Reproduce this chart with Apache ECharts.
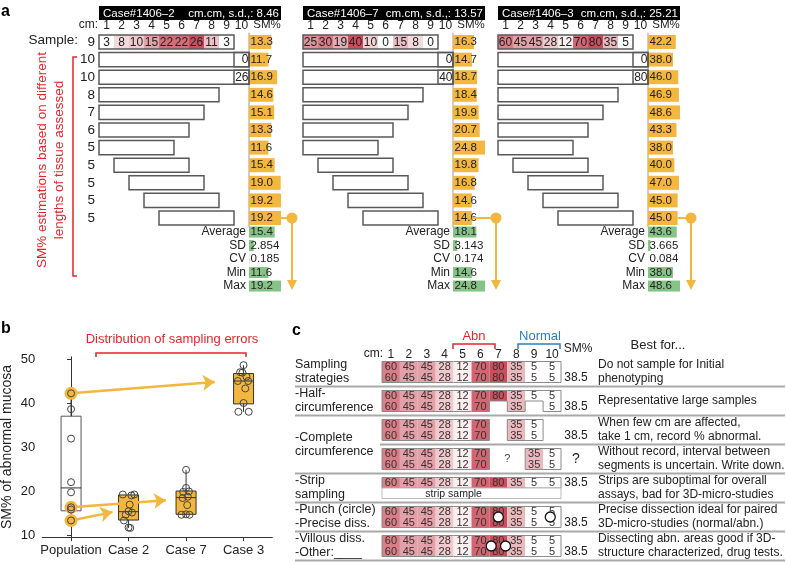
<!DOCTYPE html>
<html lang="en">
<head>
<meta charset="UTF-8">
<title>SM% sampling errors</title>
<script src="https://cdn.jsdelivr.net/npm/echarts@6/dist/echarts.min.js"></script>
<style>
  * { margin: 0; padding: 0; }
  #main { width: 786px; height: 564px; }
</style>
</head>
<body>
<div id="main"></div>
<script>
// ---------- panel a data ----------
const caseNames = ['Case#1406–2', 'Case#1406–7', 'Case#1406–3'];
const caseSd = ['8.46', '13.57', '25.21'];
const cmTicks = [1, 2, 3, 4, 5, 6, 7, 8, 9, 10];
const sampleCase2 = [3, 8, 10, 15, 22, 22, 26, 11, 3];
const sampleCase7 = [25, 30, 19, 40, 10, 0, 15, 8, 0];
const sampleCase3 = [60, 45, 45, 28, 12, 70, 80, 35, 5];
// tissue windows used for each SM% estimate (first cm, last cm)
const windowStart = [1, 1, 1, 1, 1, 1, 2, 3, 4, 5];
const windowEnd = [10, 10, 8, 7, 6, 5, 6, 7, 8, 9];
// guessed value of the missing 10th cm (rows 1 and 2)
const tenthCase2 = [0, 26];
const tenthCase7 = [0, 40];
const tenthCase3 = [0, 80];
// SM% of the sample row followed by the 10 estimates
const smCase2 = [13.3, 11.7, 16.9, 14.6, 15.1, 13.3, 11.6, 15.4, 19.0, 19.2, 19.2];
const smCase7 = [16.3, 14.7, 18.7, 18.4, 19.9, 20.7, 24.8, 19.8, 16.8, 14.6, 14.6];
const smCase3 = [42.2, 38.0, 46.0, 46.9, 48.6, 43.3, 38.0, 40.0, 47.0, 45.0, 45.0];
const statNames = ['Average', 'SD', 'CV', 'Min', 'Max'];
const statDigits = [1, 3, 3, 1, 1];
const statsCase2 = [15.4, 2.854, 0.185, 11.6, 19.2];
const statsCase7 = [18.1, 3.143, 0.174, 14.6, 24.8];
const statsCase3 = [43.6, 3.665, 0.084, 38.0, 48.6];

// ---------- panel b data ----------
const bCategories = ['Population', 'Case 2', 'Case 7', 'Case 3'];
const populationSM = [42.2, 38.6, 31.9, 22.0, 19.7, 16.3, 15.8, 13.3];
// min, q1, median, q3, max
const boxPopulation = [13.3, 15.5, 20.7, 37.0, 42.2];
const boxCase2 = [11.6, 13.4, 15.3, 19.1, 19.2];
const boxCase7 = [14.6, 14.7, 18.5, 20.0, 24.8];
const boxCase3 = [38.0, 39.8, 45.0, 46.7, 48.6];
const jitterCase2 = [0.0, 0.02, -0.05, 0.06, -0.08, 0.03, 0.0, 0.05, -0.1, 0.1];
const jitterCase7 = [0.0, 0.03, -0.06, 0.05, 0.0, 0.0, -0.05, 0.02, -0.08, 0.06];
const jitterCase3 = [-0.09, 0.05, -0.02, 0.0, 0.03, 0.09, 0.0, -0.06, -0.1, 0.08];
const arrowTo = [[2.5, 44.8], [1.65, 17.9], [0.72, 15.2]];

// ---------- panel c data ----------
const rowFull = [60, 45, 45, 28, 12, 70, 80, 35, 5, 5];
const rowHalf = [60, 45, 45, 28, 12, 70, null, 35, null, 5];
const rowComplete = [60, 45, 45, 28, 12, 70, null, 35, 5, null];
const rowShifted = [60, 45, 45, 28, 12, 70, null, null, 35, 5];
const cBlocks = [
  [rowFull, rowFull],
  [rowFull, rowHalf],
  [rowComplete, rowComplete],
  [rowShifted, rowShifted],
  [rowFull],
  [rowFull, rowFull],
  [rowFull, rowFull]
];
const cLabels = ['Sampling\nstrategies', '-Half-\ncircumference', '-Complete\ncircumference',
  '-Strip\nsampling', '-Punch (circle)\n-Precise diss.', '-Villous diss.\n-Other:____'];
const cLabelRows = [0, 1, 2.5, 4, 5, 6];
const cSM = ['38.5', '38.5', '38.5', '?', '38.5', '38.5', '38.5'];
const cSMSub = [1, 1, 1, 0.5, 0, 1, 1];
const cSepFull = [true, true, false, true, true, true, true];
const cBestFor = [
  'Do not sample for Initial\nphenotyping',
  'Representative large samples',
  'When few cm are affected,\ntake 1 cm, record % abnormal.',
  'Without record, interval between\nsegments is uncertain. Write down.',
  'Strips are suboptimal for overall\nassays, bad for 3D-micro-studies',
  'Precise dissection ideal for paired\n3D-micro-studies (normal/abn.)',
  'Dissecting abn. areas good if 3D-\nstructure characterized, drug tests.'
];
const cQuestion = [[7.5, 3]];
const cStrip = [[1, 4, 10]];
const cMarks = [[7, 5], [9.9, 5], [6.6, 6], [7.4, 6]];

// ---------- styles ----------
const FONT = '"Liberation Sans", Arial, Helvetica, sans-serif';
const ORANGE = '#F3B73F';
const GREEN = '#86C386';
const RED = '#E4262C';
const BLUE = '#2D7EC4';
const HEAT = ['#FFFFFF', '#C94F5C'];
const SUB_H = 10.5;
const cmLeft = [99, 303, 498];

const grids = [], xAxes = [], yAxes = [], series = [], visualMaps = [];
const noAxis = { axisLine: { show: false }, axisTick: { show: false }, splitLine: { show: false }, axisLabel: { show: false } };

// one grid = one x axis + one y axis with the same index
function addGrid(g, xa, ya) {
  const i = grids.length;
  grids.push(Object.assign({ outerBoundsMode: 'none' }, g));
  xAxes.push(Object.assign({ gridIndex: i }, xa));
  yAxes.push(Object.assign({ gridIndex: i }, ya));
  return i;
}

function txt(text, x, y, size, extra) {
  return Object.assign({ text: String(text), x: x, y: y, fontSize: size, fontFamily: FONT, fill: '#222',
    align: 'center', verticalAlign: 'middle' }, extra || {});
}

function cellRect(api, cm, row, frac) {
  const a = api.coord([cm - 0.5, row]);
  const b = api.coord([cm + 0.5, row]);
  const h = api.size([0, 1])[1] * frac;
  return { x: a[0], y: a[1] - h / 2, width: b[0] - a[0], height: h };
}

function renderHeatA(params, api) {
  const r = cellRect(api, api.value(0), api.value(1), 0.8);
  return { type: 'group', children: [
    { type: 'rect', shape: r, style: { fill: api.visual('color') } },
    { type: 'text', style: txt(api.value(2), r.x + r.width / 2, r.y + r.height / 2 + 0.5, 12) }
  ] };
}

function renderBoxA(params, api) {
  const a = cellRect(api, api.value(0), api.value(1), 0.8);
  const b = cellRect(api, api.value(2), api.value(1), 0.8);
  return { type: 'rect', shape: { x: a.x, y: a.y, width: b.x + b.width - a.x, height: a.height },
    style: { fill: 'none', stroke: '#595959', lineWidth: 1.5 } };
}

function renderTenthA(params, api) {
  const r = cellRect(api, api.value(0), api.value(1), 0.8);
  return { type: 'group', children: [
    { type: 'rect', shape: r, style: { fill: 'none', stroke: '#595959', lineWidth: 1.5 } },
    { type: 'text', style: txt(api.value(2), r.x + r.width - 0.5, r.y + r.height / 2 + 0.5, 12, { align: 'right' }) }
  ] };
}

function renderConnector(params, api) {
  const p = api.coord([api.value(0), api.value(1)]);
  const cs = params.coordSys;
  const cx = cs.x + cs.width + 11, y0 = p[1], y1 = y0 + 72;
  const st = { stroke: ORANGE, lineWidth: 2 };
  return { type: 'group', children: [
    { type: 'line', shape: { x1: p[0], y1: y0, x2: cx, y2: y0 }, style: st },
    { type: 'line', shape: { x1: cx, y1: y0, x2: cx, y2: y1 - 8 }, style: st },
    { type: 'circle', shape: { cx: cx, cy: y0, r: 5.5 }, style: { fill: ORANGE } },
    { type: 'polygon', shape: { points: [[cx - 5, y1 - 10], [cx + 5, y1 - 10], [cx, y1]] }, style: { fill: ORANGE } }
  ] };
}

// ---------- panel a ----------
const sampleSets = [sampleCase2, sampleCase7, sampleCase3];
const tenthSets = [tenthCase2, tenthCase7, tenthCase3];
const smSets = [smCase2, smCase7, smCase3];
const statSets = [statsCase2, statsCase7, statsCase3];
const rowIdx = smCase2.map((_, i) => i);
const rowLengths = [sampleCase2.length].concat(windowStart.map((s, i) => windowEnd[i] - s + 1));

for (let k = 0; k < 3; k++) {
  const gCm = addGrid({ left: cmLeft[k], top: 33.2, width: 150, height: 193.6 },
    { type: 'value', min: 0.5, max: 10.5, position: 'top', axisLine: { show: false }, axisTick: { show: false },
      splitLine: { show: false },
      axisLabel: { customValues: cmTicks, margin: 2, fontSize: 12, color: '#222', fontFamily: FONT } },
    Object.assign({}, noAxis, { type: 'value', inverse: true, min: -0.5, max: 10.5,
      axisLabel: k === 0 ? { customValues: rowIdx, formatter: v => rowLengths[Math.round(v)], margin: 4,
        fontSize: 13.5, color: '#222', fontFamily: FONT } : { show: false } }));

  const heatIndex = series.length;
  series.push({ type: 'custom', xAxisIndex: gCm, yAxisIndex: gCm, renderItem: renderHeatA, silent: true,
    data: sampleSets[k].map((v, i) => [i + 1, 0, v]) });
  visualMaps.push({ type: 'continuous', show: false, seriesIndex: heatIndex, dimension: 2,
    min: Math.min(...sampleSets[k]), max: Math.max(...sampleSets[k]), inRange: { color: HEAT } });

  series.push({ type: 'custom', xAxisIndex: gCm, yAxisIndex: gCm, renderItem: renderBoxA, silent: true, z: 3,
    data: [[1, 0, sampleSets[k].length]].concat(windowStart.map((s, i) => [s, i + 1, windowEnd[i]])) });
  series.push({ type: 'custom', xAxisIndex: gCm, yAxisIndex: gCm, renderItem: renderTenthA, silent: true, z: 3,
    data: tenthSets[k].map((v, i) => [10, i + 1, v]) });

  const sm = smSets[k];
  const gSm = addGrid({ left: cmLeft[k] + 150, top: 33.2, width: 32, height: 193.6 },
    Object.assign({}, noAxis, { type: 'value', min: 0, max: Math.max(...sm) }),
    { type: 'category', inverse: true, position: 'right', data: rowIdx.map(String),
      axisLine: { show: true, lineStyle: { color: '#bdbdbd', width: 1.5 } }, axisTick: { show: false },
      axisLabel: { show: false }, splitLine: { show: false } });
  series.push({ type: 'bar', xAxisIndex: gSm, yAxisIndex: gSm, data: sm, barWidth: 14, silent: true,
    itemStyle: { color: ORANGE },
    label: { show: true, position: 'insideLeft', distance: 1.5, formatter: p => p.value.toFixed(1),
      color: '#222', fontSize: 11.5, fontFamily: FONT } });
  series.push({ type: 'custom', xAxisIndex: gSm, yAxisIndex: gSm, renderItem: renderConnector, silent: true, z: 4,
    data: [[sm[sm.length - 1], sm.length - 1]] });

  const st = statSets[k];
  const gSt = addGrid({ left: cmLeft[k] + 150, top: 225.3, width: 32, height: 67.5 },
    Object.assign({}, noAxis, { type: 'value', min: 0, max: Math.max(...st) }),
    { type: 'category', inverse: true, data: statNames, axisLine: { show: false }, axisTick: { show: false },
      splitLine: { show: false },
      axisLabel: { show: true, interval: 0, margin: 3, fontSize: 12, color: '#222', fontFamily: FONT } });
  series.push({ type: 'bar', xAxisIndex: gSt, yAxisIndex: gSt, data: st, barWidth: 11, silent: true,
    itemStyle: { color: GREEN },
    label: { show: true, position: 'insideLeft', distance: 1.5,
      formatter: p => p.value.toFixed(statDigits[p.dataIndex]), color: '#222', fontSize: 11.5, fontFamily: FONT } });
}

// ---------- panel b ----------
function renderBoxB(params, api) {
  const cat = api.value(0);
  const x = api.coord([cat, api.value(3)])[0];
  const y = [1, 2, 3, 4, 5].map(d => api.coord([cat, api.value(d)])[1]);
  const w = 20;
  const st = { stroke: '#333', lineWidth: 1 };
  return { type: 'group', children: [
    { type: 'line', shape: { x1: x, y1: y[4], x2: x, y2: y[3] }, style: st },
    { type: 'line', shape: { x1: x, y1: y[1], x2: x, y2: y[0] }, style: st },
    { type: 'rect', shape: { x: x - w / 2, y: y[3], width: w, height: y[1] - y[3] },
      style: { fill: cat === 0 ? '#fff' : ORANGE, stroke: cat === 0 ? '#555' : '#333', lineWidth: 1 } },
    { type: 'line', shape: { x1: x - w / 2, y1: y[2], x2: x + w / 2, y2: y[2] }, style: st }
  ] };
}

const gB = addGrid({ left: 42.3, top: 356.8, width: 230, height: 180.4 },
  { type: 'value', min: -0.5, max: 3.5, splitLine: { show: false },
    axisLine: { show: true, lineStyle: { color: '#333', width: 1 } },
    axisTick: { show: true, customValues: [0, 1, 2, 3], length: 4, lineStyle: { color: '#333' } },
    axisLabel: { customValues: [0, 1, 2, 3], formatter: v => bCategories[Math.round(v)], margin: 7,
      fontSize: 13, color: '#222', fontFamily: FONT } },
  { type: 'value', min: 9.5, max: 50.5, splitLine: { show: false },
    name: 'SM% of abnormal mucosa', nameLocation: 'middle', nameGap: 28,
    nameTextStyle: { fontSize: 14, color: '#222', fontFamily: FONT },
    axisLine: { show: true, lineStyle: { color: '#333', width: 1 } },
    axisTick: { show: true, customValues: [10, 20, 30, 40, 50], length: 4, lineStyle: { color: '#333' } },
    axisLabel: { customValues: [10, 20, 30, 40, 50], margin: 7, fontSize: 13, color: '#222', fontFamily: FONT } });

const highlightSM = [smCase3[0], smCase7[0], smCase2[0]];
series.push({ type: 'custom', xAxisIndex: gB, yAxisIndex: gB, renderItem: renderBoxB, silent: true, z: 2,
  data: [boxPopulation, boxCase2, boxCase7, boxCase3].map((b, i) => [i].concat(b)) });
series.push({ type: 'scatter', xAxisIndex: gB, yAxisIndex: gB, symbolSize: 13, silent: true, z: 3,
  itemStyle: { color: ORANGE, opacity: 1 }, data: highlightSM.map(v => [0, v]) });
series.push({ type: 'lines', coordinateSystem: 'cartesian2d', xAxisIndex: gB, yAxisIndex: gB, silent: true, z: 4,
  symbol: ['none', 'arrow'], symbolSize: 12, lineStyle: { color: ORANGE, width: 2.5, opacity: 1, curveness: 0 },
  data: arrowTo.map((t, i) => ({ coords: [[0, highlightSM[i]], t] })) });
const casePoints = [];
[[smCase2, jitterCase2, 1], [smCase7, jitterCase7, 2], [smCase3, jitterCase3, 3]].forEach(([sm, jit, c]) => {
  sm.slice(1).forEach((v, i) => casePoints.push([c + jit[i], v]));
});
series.push({ type: 'scatter', xAxisIndex: gB, yAxisIndex: gB, symbolSize: 7, silent: true, z: 5,
  itemStyle: { color: 'rgba(255,255,255,0)', borderColor: '#444', borderWidth: 1, opacity: 1 },
  data: populationSM.map(v => [0, v]).concat(casePoints) });

// ---------- panel c ----------
function renderCellC(params, api) {
  const cm = api.value(0), blk = api.value(1), sub = api.value(2), v = api.value(3), e = api.value(4);
  const c = api.coord([cm, blk]);
  const w = api.size([1, 0])[0];
  const x0 = c[0] - w / 2, x1 = x0 + w;
  const y0 = c[1] - SUB_H + sub * SUB_H, y1 = y0 + SUB_H;
  const es = { stroke: '#8a8a8a', lineWidth: 1 };
  const kids = [
    { type: 'rect', shape: { x: x0, y: y0, width: w, height: SUB_H }, style: { fill: api.visual('color') } },
    { type: 'text', style: txt(v, c[0], y0 + SUB_H / 2 + 0.5, 11, { fill: '#3a3030' }) }
  ];
  if (e & 1) kids.push({ type: 'line', shape: { x1: x0, y1: y0, x2: x1, y2: y0 }, style: es });
  if (e & 2) kids.push({ type: 'line', shape: { x1: x1, y1: y0, x2: x1, y2: y1 }, style: es });
  if (e & 4) kids.push({ type: 'line', shape: { x1: x0, y1: y1, x2: x1, y2: y1 }, style: es });
  if (e & 8) kids.push({ type: 'line', shape: { x1: x0, y1: y0, x2: x0, y2: y1 }, style: es });
  return { type: 'group', children: kids };
}

function renderNoteC(params, api) {
  const i = api.value(1);
  const cs = params.coordSys;
  const yc = api.coord([10.5, i])[1];
  const ySep = api.coord([10.5, i + 0.5])[1];
  const xr = cs.x + cs.width;
  return { type: 'group', children: [
    { type: 'text', style: txt(cSM[i], xr + 15, yc + (cSMSub[i] - 0.5) * SUB_H, cSM[i] === '?' ? 14 : 12) },
    { type: 'text', style: txt(cBestFor[i], xr + 37, yc, 12, { align: 'left', lineHeight: 14 }) },
    { type: 'line', shape: { x1: cSepFull[i] ? cs.x - 87 : cs.x - 2, y1: ySep, x2: xr + 224, y2: ySep },
      style: { stroke: '#a9a9a9', lineWidth: 2 } }
  ] };
}

function renderLabelC(params, api) {
  const p = api.coord([0.5, api.value(1)]);
  return { type: 'text', style: txt(cLabels[api.value(2)], params.coordSys.x - 87, p[1], 12.5,
    { align: 'left', lineHeight: 14 }) };
}

function renderStripC(params, api) {
  const a = api.coord([api.value(0) - 0.5, api.value(1)]);
  const b = api.coord([api.value(2) + 0.5, api.value(1)]);
  const mid = api.coord([4.5, api.value(1)]);
  return { type: 'group', children: [
    { type: 'rect', shape: { x: a[0], y: a[1], width: b[0] - a[0], height: SUB_H },
      style: { fill: '#fff', stroke: '#bbb', lineWidth: 1 } },
    { type: 'text', style: txt('strip sample', mid[0], a[1] + SUB_H / 2 + 0.5, 10.5) }
  ] };
}

function renderQuestionC(params, api) {
  const p = api.coord([api.value(0), api.value(1)]);
  return { type: 'text', style: txt('?', p[0], p[1], 11, { fill: '#444' }) };
}

const gC = addGrid({ left: 382, top: 357.5, width: 179, height: 203 },
  { type: 'value', min: 0.5, max: 10.5, position: 'top', axisLine: { show: false }, axisTick: { show: false },
    splitLine: { show: false },
    axisLabel: { customValues: cmTicks, margin: -3, fontSize: 12, color: '#222', fontFamily: FONT } },
  Object.assign({}, noAxis, { type: 'value', inverse: true, min: -0.5, max: 6.5 }));

const cellData = [];
cBlocks.forEach((rows, b) => rows.forEach((row, s) => row.forEach((v, i) => {
  if (v === null) return;
  const on = (ss, ii) => !!rows[ss] && rows[ss][ii] != null;
  let e = 0;
  if (!on(s - 1, i)) e |= 1;
  if (!on(s, i + 1)) e |= 2;
  if (!on(s + 1, i)) e |= 4;
  if (!on(s, i - 1)) e |= 8;
  cellData.push([i + 1, b, s, v, e]);
})));
const cellIndex = series.length;
series.push({ type: 'custom', xAxisIndex: gC, yAxisIndex: gC, renderItem: renderCellC, silent: true, data: cellData });
visualMaps.push({ type: 'continuous', show: false, seriesIndex: cellIndex, dimension: 3,
  min: Math.min(...rowFull), max: Math.max(...rowFull), inRange: { color: HEAT } });
series.push({ type: 'custom', xAxisIndex: gC, yAxisIndex: gC, renderItem: renderNoteC, silent: true,
  data: cBestFor.map((_, i) => [10.5, i]) });
series.push({ type: 'custom', xAxisIndex: gC, yAxisIndex: gC, renderItem: renderLabelC, silent: true,
  data: cLabelRows.map((r, i) => [0.5, r, i]) });
series.push({ type: 'custom', xAxisIndex: gC, yAxisIndex: gC, renderItem: renderStripC, silent: true, data: cStrip });
series.push({ type: 'custom', xAxisIndex: gC, yAxisIndex: gC, renderItem: renderQuestionC, silent: true, data: cQuestion });
series.push({ type: 'scatter', xAxisIndex: gC, yAxisIndex: gC, symbolSize: 10, silent: true, z: 5,
  itemStyle: { color: '#fff', borderColor: '#111', borderWidth: 1.3, opacity: 1 }, data: cMarks });

// ---------- static annotations ----------
const graphics = [
  { type: 'text', x: 1, y: 12, style: txt('a', 0, 0, 16, { align: 'left', fontWeight: 'bold', fill: '#000' }) },
  { type: 'text', x: 1, y: 329, style: txt('b', 0, 0, 16, { align: 'left', fontWeight: 'bold', fill: '#000' }) },
  { type: 'text', x: 292, y: 331, style: txt('c', 0, 0, 16, { align: 'left', fontWeight: 'bold', fill: '#000' }) },
  { type: 'text', x: 98, y: 25, style: txt('cm:', 0, 0, 12, { align: 'right' }) },
  { type: 'text', x: 78, y: 40, style: txt('Sample:', 0, 0, 13.5, { align: 'right' }) },
  { type: 'polyline', shape: { points: [[77, 57], [73, 57], [73, 276], [77, 276]] }, style: { stroke: RED, lineWidth: 1.5, fill: 'none' } },
  { type: 'text', x: 42, y: 160, rotation: Math.PI / 2, style: txt('SM% estimations based on different', 0, 0, 13.5, { fill: RED }) },
  { type: 'text', x: 59, y: 160, rotation: Math.PI / 2, style: txt('lengths of tissue assessed', 0, 0, 13.5, { fill: RED }) },
  { type: 'polyline', shape: { points: [[96, 357], [96, 353], [246, 353], [246, 357]] }, style: { stroke: RED, lineWidth: 1.5, fill: 'none' } },
  { type: 'text', x: 172, y: 339, style: txt('Distribution of sampling errors', 0, 0, 13, { fill: RED }) },
  { type: 'text', x: 383, y: 354, style: txt('cm:', 0, 0, 12, { align: 'right' }) },
  { type: 'polyline', shape: { points: [[453, 349], [453, 344], [495, 344], [495, 349]] }, style: { stroke: RED, lineWidth: 1.5, fill: 'none' } },
  { type: 'text', x: 474, y: 336, style: txt('Abn', 0, 0, 13, { fill: RED }) },
  { type: 'polyline', shape: { points: [[518, 349], [518, 344], [560, 344], [560, 349]] }, style: { stroke: BLUE, lineWidth: 1.5, fill: 'none' } },
  { type: 'text', x: 540, y: 336, style: txt('Normal', 0, 0, 13, { fill: BLUE }) },
  { type: 'text', x: 578, y: 349, style: txt('SM%', 0, 0, 12) },
  { type: 'text', x: 658, y: 345, style: txt('Best for...', 0, 0, 13) }
];
for (let k = 0; k < 3; k++) {
  graphics.push({ type: 'rect', shape: { x: cmLeft[k], y: 6, width: 182, height: 14 }, style: { fill: '#000' } });
  graphics.push({ type: 'text', x: cmLeft[k] + 4, y: 13.5, style: txt(caseNames[k], 0, 0, 11.5, { align: 'left', fill: '#fff' }) });
  graphics.push({ type: 'text', x: cmLeft[k] + 180, y: 13.5, style: txt('cm.cm, s.d.,: ' + caseSd[k], 0, 0, 11.5, { align: 'right', fill: '#fff' }) });
  graphics.push({ type: 'text', x: cmLeft[k] + 168, y: 25, style: txt('SM%', 0, 0, 11.5) });
}

const chart = echarts.init(document.getElementById('main'));
chart.setOption({
  animation: false,
  backgroundColor: '#fff',
  textStyle: { fontFamily: FONT },
  grid: grids,
  xAxis: xAxes,
  yAxis: yAxes,
  visualMap: visualMaps,
  series: series,
  graphic: graphics
});
</script>
</body>
</html>
